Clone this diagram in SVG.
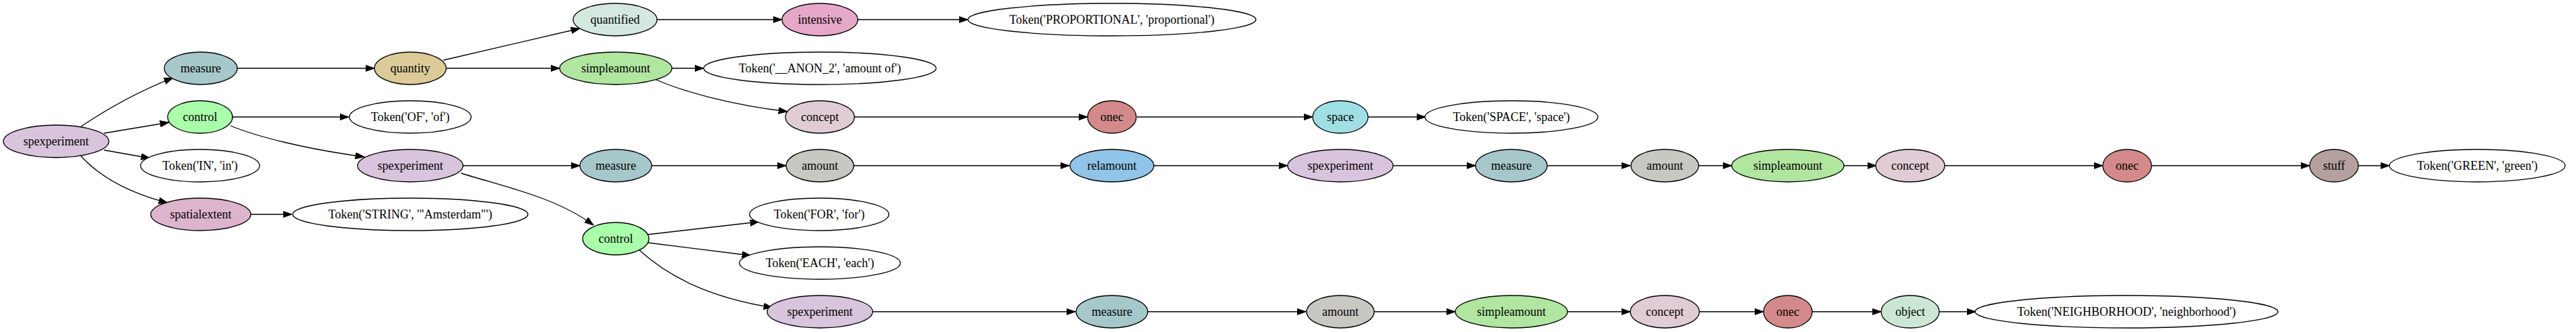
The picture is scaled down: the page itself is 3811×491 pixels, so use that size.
<svg xmlns="http://www.w3.org/2000/svg" width="3811" height="491" viewBox="0 0 3811 491">
<style>
text{font-family:"Liberation Serif","Times New Roman",serif;font-size:18px;text-anchor:middle;fill:#000}
ellipse{stroke:#000;stroke-width:1.33}
.e{fill:none;stroke:#000;stroke-width:1.33}
.tok{fill:#fff}
.spexperiment{fill:#d8c4dc}
.measure{fill:#a6c8ca}
.control{fill:#aaffaa}
.quantity{fill:#dccb98}
.quantified{fill:#d4e8e0}
.simpleamount{fill:#b0e6a0}
.intensive{fill:#e6a8c8}
.concept{fill:#e0ccd4}
.onec{fill:#d48a8a}
.space{fill:#a0e0e4}
.amount{fill:#c8c8c2}
.relamount{fill:#90c4e8}
.spatialextent{fill:#dcb4cc}
.stuff{fill:#b4a09e}
.object{fill:#cce6d6}
</style>
<defs>
<marker id="arr" markerUnits="userSpaceOnUse" markerWidth="14" markerHeight="10" refX="13.3" refY="4.7" orient="auto">
<path d="M0,0 L13.3,4.7 L0,9.4 z" fill="#000" stroke="#000" stroke-width="1"/>
</marker>
</defs>
<rect width="3811" height="491" fill="#fff"/>
<g id="edges">
<path class="e" marker-end="url(#arr)" d="M120,187 C160,160 205,135 256,115"/>
<path class="e" marker-end="url(#arr)" d="M154,197 L250,181"/>
<path class="e" marker-end="url(#arr)" d="M154,222 L222,234"/>
<path class="e" marker-end="url(#arr)" d="M119,230 C148,262 190,285 248,300"/>
<path class="e" marker-end="url(#arr)" d="M351,101 L554,101"/>
<path class="e" marker-end="url(#arr)" d="M656,89 L858,42"/>
<path class="e" marker-end="url(#arr)" d="M660,101 L828,101"/>
<path class="e" marker-end="url(#arr)" d="M972,29 L1157,29"/>
<path class="e" marker-end="url(#arr)" d="M1269,29 L1432,29"/>
<path class="e" marker-end="url(#arr)" d="M994,101 L1041,101"/>
<path class="e" marker-end="url(#arr)" d="M971,118 C1010,135 1080,155 1165,165"/>
<path class="e" marker-end="url(#arr)" d="M1264,173 L1609,173"/>
<path class="e" marker-end="url(#arr)" d="M1682,173 L1942,173"/>
<path class="e" marker-end="url(#arr)" d="M2024,173 L2109,173"/>
<path class="e" marker-end="url(#arr)" d="M344,173 L516,173"/>
<path class="e" marker-end="url(#arr)" d="M341,186 C380,202 450,220 539,232"/>
<path class="e" marker-end="url(#arr)" d="M685,245 L858,245"/>
<path class="e" marker-end="url(#arr)" d="M682,256 C740,275 820,290 878,333"/>
<path class="e" marker-end="url(#arr)" d="M957,347 L1123,328"/>
<path class="e" marker-end="url(#arr)" d="M959,359 L1111,378"/>
<path class="e" marker-end="url(#arr)" d="M946,370 C990,410 1050,440 1143,455"/>
<path class="e" marker-end="url(#arr)" d="M371,317 L432,317"/>
<path class="e" marker-end="url(#arr)" d="M964,245 L1163,245"/>
<path class="e" marker-end="url(#arr)" d="M1263,245 L1582,245"/>
<path class="e" marker-end="url(#arr)" d="M1707,245 L1905,245"/>
<path class="e" marker-end="url(#arr)" d="M2061,245 L2183,245"/>
<path class="e" marker-end="url(#arr)" d="M2290,245 L2412,245"/>
<path class="e" marker-end="url(#arr)" d="M2513,245 L2562,245"/>
<path class="e" marker-end="url(#arr)" d="M2728,245 L2776,245"/>
<path class="e" marker-end="url(#arr)" d="M2877,245 L3111,245"/>
<path class="e" marker-end="url(#arr)" d="M3183,245 L3417,245"/>
<path class="e" marker-end="url(#arr)" d="M3489,245 L3535,245"/>
<path class="e" marker-end="url(#arr)" d="M1291,461 L1591,461"/>
<path class="e" marker-end="url(#arr)" d="M1698,461 L1932,461"/>
<path class="e" marker-end="url(#arr)" d="M2033,461 L2153,461"/>
<path class="e" marker-end="url(#arr)" d="M2319,461 L2412,461"/>
<path class="e" marker-end="url(#arr)" d="M2514,461 L2609,461"/>
<path class="e" marker-end="url(#arr)" d="M2681,461 L2783,461"/>
<path class="e" marker-end="url(#arr)" d="M2869,461 L2923,461"/>
</g>
<g id="n_root"><ellipse class="spexperiment" cx="83" cy="209" rx="78" ry="24"/><text x="83" y="215">spexperiment</text></g>
<g id="n_measure1"><ellipse class="measure" cx="297" cy="101" rx="54" ry="24"/><text x="297" y="107">measure</text></g>
<g id="n_control1"><ellipse class="control" cx="296" cy="173" rx="48" ry="24"/><text x="296" y="179">control</text></g>
<g id="n_tok_in"><ellipse class="tok" cx="296" cy="245" rx="88" ry="24"/><text x="296" y="251">Token('IN', 'in')</text></g>
<g id="n_spatialextent"><ellipse class="spatialextent" cx="297" cy="317" rx="74" ry="24"/><text x="297" y="323">spatialextent</text></g>
<g id="n_quantity"><ellipse class="quantity" cx="607" cy="101" rx="53" ry="24"/><text x="607" y="107">quantity</text></g>
<g id="n_tok_of"><ellipse class="tok" cx="607" cy="173" rx="90" ry="24"/><text x="607" y="179">Token('OF', 'of')</text></g>
<g id="n_spexp2"><ellipse class="spexperiment" cx="607" cy="245" rx="78" ry="24"/><text x="607" y="251">spexperiment</text></g>
<g id="n_tok_string"><ellipse class="tok" cx="607" cy="317" rx="174" ry="24"/><text x="607" y="323">Token('STRING', '"Amsterdam"')</text></g>
<g id="n_quantified"><ellipse class="quantified" cx="910" cy="29" rx="62" ry="24"/><text x="910" y="35">quantified</text></g>
<g id="n_simpleamount1"><ellipse class="simpleamount" cx="911" cy="101" rx="83" ry="24"/><text x="911" y="107">simpleamount</text></g>
<g id="n_measure2"><ellipse class="measure" cx="911" cy="245" rx="53" ry="24"/><text x="911" y="251">measure</text></g>
<g id="n_control2"><ellipse class="control" cx="911" cy="353" rx="49" ry="24"/><text x="911" y="359">control</text></g>
<g id="n_intensive"><ellipse class="intensive" cx="1213" cy="29" rx="56" ry="24"/><text x="1213" y="35">intensive</text></g>
<g id="n_tok_anon"><ellipse class="tok" cx="1213" cy="101" rx="172" ry="24"/><text x="1213" y="107">Token('__ANON_2', 'amount of')</text></g>
<g id="n_concept1"><ellipse class="concept" cx="1213" cy="173" rx="51" ry="24"/><text x="1213" y="179">concept</text></g>
<g id="n_amount1"><ellipse class="amount" cx="1213" cy="245" rx="50" ry="24"/><text x="1213" y="251">amount</text></g>
<g id="n_tok_for"><ellipse class="tok" cx="1212" cy="317" rx="103" ry="24"/><text x="1212" y="323">Token('FOR', 'for')</text></g>
<g id="n_tok_each"><ellipse class="tok" cx="1213" cy="389" rx="119" ry="24"/><text x="1213" y="395">Token('EACH', 'each')</text></g>
<g id="n_spexp3"><ellipse class="spexperiment" cx="1213" cy="461" rx="78" ry="24"/><text x="1213" y="467">spexperiment</text></g>
<g id="n_tok_prop"><ellipse class="tok" cx="1645" cy="29" rx="213" ry="24"/><text x="1645" y="35">Token('PROPORTIONAL', 'proportional')</text></g>
<g id="n_onec1"><ellipse class="onec" cx="1645" cy="173" rx="36" ry="24"/><text x="1645" y="179">onec</text></g>
<g id="n_relamount"><ellipse class="relamount" cx="1645" cy="245" rx="62" ry="24"/><text x="1645" y="251">relamount</text></g>
<g id="n_measure3"><ellipse class="measure" cx="1645" cy="461" rx="53" ry="24"/><text x="1645" y="467">measure</text></g>
<g id="n_space"><ellipse class="space" cx="1983" cy="173" rx="41" ry="24"/><text x="1983" y="179">space</text></g>
<g id="n_spexp4"><ellipse class="spexperiment" cx="1983" cy="245" rx="78" ry="24"/><text x="1983" y="251">spexperiment</text></g>
<g id="n_amount2"><ellipse class="amount" cx="1983" cy="461" rx="50" ry="24"/><text x="1983" y="467">amount</text></g>
<g id="n_tok_space"><ellipse class="tok" cx="2236" cy="173" rx="128" ry="24"/><text x="2236" y="179">Token('SPACE', 'space')</text></g>
<g id="n_measure4"><ellipse class="measure" cx="2236" cy="245" rx="53" ry="24"/><text x="2236" y="251">measure</text></g>
<g id="n_simpleamount2"><ellipse class="simpleamount" cx="2236" cy="461" rx="83" ry="24"/><text x="2236" y="467">simpleamount</text></g>
<g id="n_amount3"><ellipse class="amount" cx="2463" cy="245" rx="50" ry="24"/><text x="2463" y="251">amount</text></g>
<g id="n_concept2"><ellipse class="concept" cx="2463" cy="461" rx="51" ry="24"/><text x="2463" y="467">concept</text></g>
<g id="n_simpleamount3"><ellipse class="simpleamount" cx="2645" cy="245" rx="83" ry="24"/><text x="2645" y="251">simpleamount</text></g>
<g id="n_onec2"><ellipse class="onec" cx="2645" cy="461" rx="36" ry="24"/><text x="2645" y="467">onec</text></g>
<g id="n_concept3"><ellipse class="concept" cx="2826" cy="245" rx="51" ry="24"/><text x="2826" y="251">concept</text></g>
<g id="n_object"><ellipse class="object" cx="2826" cy="461" rx="43" ry="24"/><text x="2826" y="467">object</text></g>
<g id="n_onec3"><ellipse class="onec" cx="3147" cy="245" rx="36" ry="24"/><text x="3147" y="251">onec</text></g>
<g id="n_tok_neigh"><ellipse class="tok" cx="3146" cy="461" rx="224" ry="24"/><text x="3146" y="467">Token('NEIGHBORHOOD', 'neighborhood')</text></g>
<g id="n_stuff"><ellipse class="stuff" cx="3453" cy="245" rx="36" ry="24"/><text x="3453" y="251">stuff</text></g>
<g id="n_tok_green"><ellipse class="tok" cx="3665" cy="245" rx="130" ry="24"/><text x="3665" y="251">Token('GREEN', 'green')</text></g>
</svg>
